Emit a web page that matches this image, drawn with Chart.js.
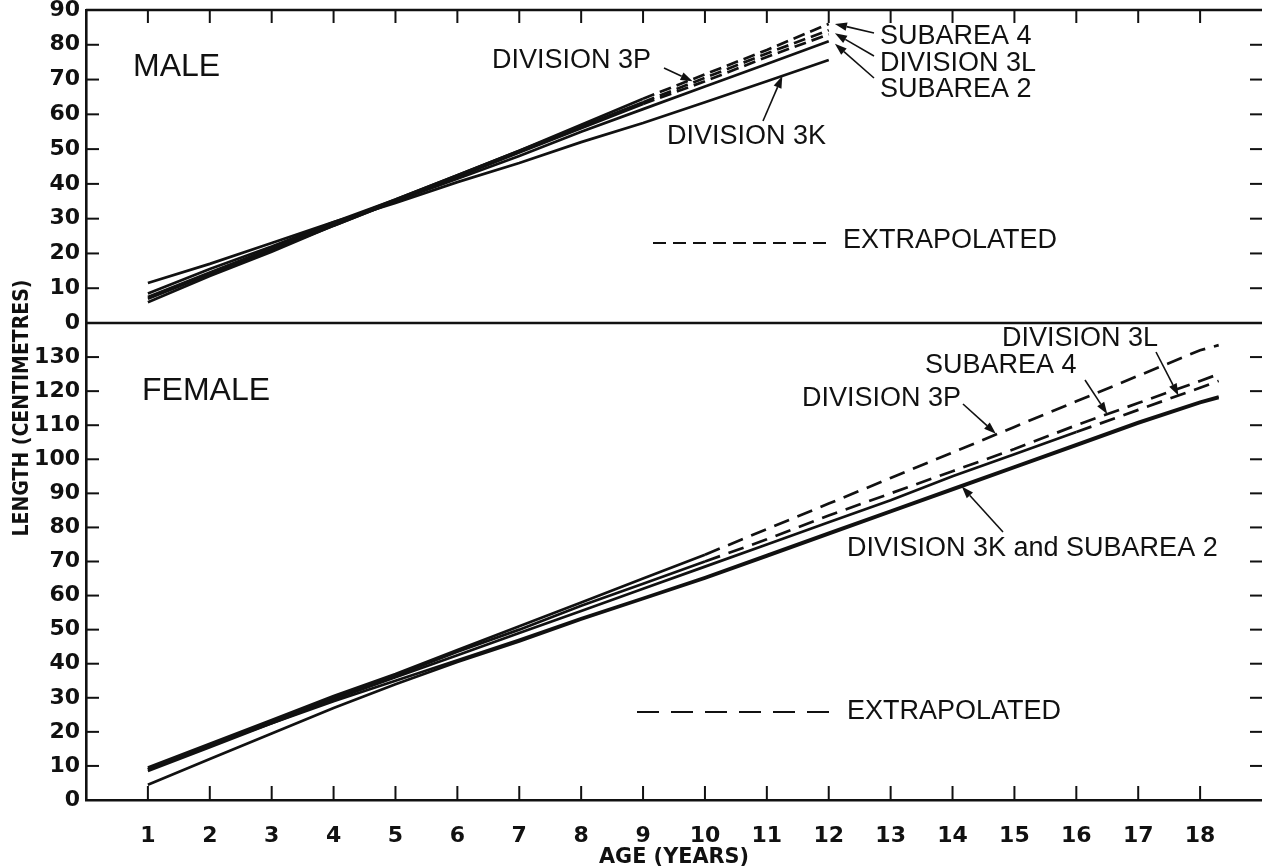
<!DOCTYPE html>
<html>
<head>
<meta charset="utf-8">
<script src="https://cdn.jsdelivr.net/npm/chart.js@4.4.0/dist/chart.umd.min.js"></script>
<style>
  html, body { margin: 0; padding: 0; background: #fff; }
</style>
</head>
<body>
<canvas id="growth" width="1262" height="868"></canvas>
<script>
// --- data (length in cm at age in years) ---
const ageTicks = [1, 2, 3, 4, 5, 6, 7, 8, 9, 10, 11, 12, 13, 14, 15, 16, 17, 18];

const maleAges = [1, 2, 3, 4, 5, 6, 7, 8, 9, 10, 11, 12];
const maleSub4 = [7.5, 14.5, 21.5, 28.5, 35.5, 42.5, 49.5, 57, 64.5, 71.5, 78.5, 86];
const male3L   = [8.5, 15.5, 22, 29, 35.5, 42.5, 49.5, 56.5, 63.5, 70.5, 77.5, 84.2];
const male3P   = [6, 13.5, 20.5, 28, 35, 42, 49, 56, 63, 69.5, 76.5, 83];
const maleSub2 = [7, 14, 21, 28, 35, 41.5, 48, 55, 61.5, 68, 74.5, 81];
const male3K   = [11.5, 17, 23, 29, 34.5, 40.5, 46, 52, 57.5, 63.5, 69.5, 75.6];

const femaleAges = [1, 2, 3, 4, 5, 6, 7, 8, 9, 10, 11, 12, 13, 14, 15, 16, 17, 18, 18.3];
const female3P   = [9.5, 16.5, 23.5, 30.5, 37, 44, 51, 58, 65, 72, 79.5, 87, 94.5, 102, 109.5, 117, 124.5, 132, 133.5];
const femaleSub4 = [9, 16, 23, 30, 36.5, 43.5, 50, 57, 63.5, 70, 76.5, 83.5, 90, 96.5, 103, 110, 116.5, 123, 125];
const female3L   = [8.5, 15.5, 22.5, 29.5, 36, 42.5, 49, 55.5, 62, 68.5, 75, 81.5, 88, 95, 101.5, 108, 114.5, 121, 123];
const female3K   = [4.5, 12, 19.5, 27, 34, 40.5, 46.5, 53, 59, 65, 71.5, 78, 84.5, 91, 97.5, 104, 110.5, 116.5, 118];
const femaleSub2 = [9, 16, 22.5, 29, 35, 41, 47, 53.3, 59.3, 65.4, 71.9, 78.4, 84.9, 91.4, 97.9, 104.4, 110.9, 116.9, 118.4];

// age from which each curve is extrapolated (null = observed throughout)
const maleExtrapFrom   = { sub4: 9, l3: 9, p3: 9, sub2: null, k3: null };
const femaleExtrapFrom = { p3: 10, sub4: 10, l3: 16, k3: null, sub2: null };

const ink = '#111';
const maleDash = [12, 6];
const femaleDash = [16, 9];

function series(ages, values, axis, from, dash) {
    return {
        data: ages.map((a, i) => ({ x: a, y: values[i] })),
        yAxisID: axis,
        borderColor: ink,
        borderWidth: 2.7,
        pointRadius: 0,
        tension: 0,
        segment: {
            borderDash: ctx => (from !== null && ctx.p0.parsed.x >= from - 1e-9) ? dash : undefined
        }
    };
}

const datasets = [
    series(maleAges, maleSub4, 'yM', maleExtrapFrom.sub4, maleDash),
    series(maleAges, male3L, 'yM', maleExtrapFrom.l3, maleDash),
    series(maleAges, male3P, 'yM', maleExtrapFrom.p3, maleDash),
    series(maleAges, maleSub2, 'yM', maleExtrapFrom.sub2, maleDash),
    series(maleAges, male3K, 'yM', maleExtrapFrom.k3, maleDash),
    series(femaleAges, female3P, 'yF', femaleExtrapFrom.p3, femaleDash),
    series(femaleAges, femaleSub4, 'yF', femaleExtrapFrom.sub4, femaleDash),
    series(femaleAges, female3L, 'yF', femaleExtrapFrom.l3, femaleDash),
    series(femaleAges, female3K, 'yF', femaleExtrapFrom.k3, femaleDash),
    series(femaleAges, femaleSub2, 'yF', femaleExtrapFrom.sub2, femaleDash)
];

// labels and pointers (tail in px, tip in data units on the panel's axis)
const notes = [
    { text: 'MALE', size: 32, x: 133, y: 67 },
    { text: 'DIVISION 3P', size: 27, x: 492, y: 61 },
    { text: 'DIVISION 3K', size: 27, x: 667, y: 137 },
    { text: 'SUBAREA 4', size: 27, x: 880, y: 37 },
    { text: 'DIVISION 3L', size: 27, x: 880, y: 64 },
    { text: 'SUBAREA 2', size: 27, x: 880, y: 90 },
    { text: 'EXTRAPOLATED', size: 27, x: 843, y: 241 },
    { text: 'FEMALE', size: 32, x: 142, y: 391 },
    { text: 'DIVISION 3L', size: 27, x: 1002, y: 339 },
    { text: 'SUBAREA 4', size: 27, x: 925, y: 366 },
    { text: 'DIVISION 3P', size: 27, x: 802, y: 399 },
    { text: 'DIVISION 3K and SUBAREA 2', size: 27, x: 847, y: 549 },
    { text: 'EXTRAPOLATED', size: 27, x: 847, y: 712 }
];
const pointers = [
    { from: [664, 68], axis: 'yM', age: 9.8, value: 69.5 },
    { from: [763, 121], axis: 'yM', age: 11.25, value: 71 },
    { from: [874, 33], axis: 'yM', age: 12.1, value: 86 },
    { from: [874, 56], axis: 'yM', age: 12.1, value: 83.3 },
    { from: [874, 78], axis: 'yM', age: 12.1, value: 80.3 },
    { from: [963, 404], axis: 'yF', age: 14.7, value: 107.5 },
    { from: [1085, 380], axis: 'yF', age: 16.5, value: 113.3 },
    { from: [1156, 352], axis: 'yF', age: 17.65, value: 118.7 },
    { from: [1003, 532], axis: 'yF', age: 14.15, value: 92 }
];
const legendDashes = [
    { x1: 653, x2: 833, y: 243, dash: [13, 7] },
    { x1: 637, x2: 832, y: 712, dash: [22, 12] }
];

function line(ctx, x1, y1, x2, y2) {
    ctx.beginPath();
    ctx.moveTo(x1, y1);
    ctx.lineTo(x2, y2);
    ctx.stroke();
}

function fitText(ctx, text, cx, cy, width, font, angle) {
    ctx.save();
    ctx.font = font;
    const k = width / ctx.measureText(text).width;
    ctx.translate(cx, cy);
    ctx.rotate(angle);
    ctx.scale(k, 1);
    ctx.textAlign = 'center';
    ctx.textBaseline = 'middle';
    ctx.fillText(text, 0, 0);
    ctx.restore();
}

const framePlugin = {
    id: 'frame',
    afterDatasetsDraw(chart) {
        const { ctx, chartArea: a, scales } = chart;
        const x = scales.x;
        ctx.save();
        ctx.strokeStyle = ink;
        ctx.fillStyle = ink;
        ctx.lineWidth = 2.4;
        line(ctx, a.left, a.top, a.right, a.top);
        line(ctx, a.left, scales.yM.bottom, a.right, scales.yM.bottom);

        // inward tick marks
        ctx.lineWidth = 2;
        ageTicks.forEach(v => {
            const px = x.getPixelForValue(v);
            line(ctx, px, a.top, px, a.top + 13);
            line(ctx, px, a.bottom, px, a.bottom - 14);
        });
        ['yM', 'yF'].forEach(id => {
            const s = scales[id];
            s.ticks.forEach(t => {
                if (t.value <= s.min || t.value >= s.max) return;
                const py = s.getPixelForValue(t.value);
                line(ctx, a.left, py, a.left + 13, py);
                line(ctx, a.right - 12, py, a.right, py);
            });
        });

        // legend dashes
        legendDashes.forEach(d => {
            ctx.setLineDash(d.dash);
            line(ctx, d.x1, d.y, d.x2, d.y);
        });
        ctx.setLineDash([]);

        // pointers
        ctx.lineWidth = 1.6;
        pointers.forEach(p => {
            const tx = x.getPixelForValue(p.age);
            const ty = scales[p.axis].getPixelForValue(p.value);
            const [fx, fy] = p.from;
            const ang = Math.atan2(ty - fy, tx - fx);
            const hl = 12, hw = 4.2;
            const bx = tx - hl * Math.cos(ang), by = ty - hl * Math.sin(ang);
            line(ctx, fx, fy, bx, by);
            ctx.beginPath();
            ctx.moveTo(tx, ty);
            ctx.lineTo(bx + hw * Math.sin(ang), by - hw * Math.cos(ang));
            ctx.lineTo(bx - hw * Math.sin(ang), by + hw * Math.cos(ang));
            ctx.closePath();
            ctx.fill();
        });

        // panel texts
        ctx.textAlign = 'left';
        ctx.textBaseline = 'middle';
        notes.forEach(n => {
            ctx.font = `${n.size}px "Liberation Sans", Arial, sans-serif`;
            ctx.fillText(n.text, n.x, n.y);
        });

        // axis titles
        fitText(ctx, 'LENGTH (CENTIMETRES)', 22, 408, 257, 'bold 22px "DejaVu Sans", sans-serif', -Math.PI / 2);
        fitText(ctx, 'AGE (YEARS)', (a.left + a.right) / 2, 857, 150, 'bold 22px "DejaVu Sans", sans-serif', 0);
        ctx.restore();
    }
};

const tickFont = { family: '"DejaVu Sans", sans-serif', weight: 'bold', size: 22 };

const yAxis = (max, weight) => ({
    type: 'linear',
    position: 'left',
    stack: 'panels',
    stackWeight: weight,
    min: 0,
    max: max,
    grid: { display: false, drawTicks: false },
    border: { display: true, color: ink, width: 2.6 },
    ticks: {
        stepSize: 10,
        autoSkip: false,
        padding: 6,
        color: ink,
        font: tickFont,
        callback: v => (v === 140 ? '' : v)
    },
    afterFit: s => { s.width = 86; s.paddingTop = 0; s.paddingBottom = 0; }
});

new Chart(document.getElementById('growth'), {
    type: 'line',
    data: { datasets },
    options: {
        responsive: false,
        animation: false,
        events: [],
        layout: { padding: { top: 10, left: 0, right: 0, bottom: 0 } },
        plugins: { legend: { display: false }, tooltip: { enabled: false } },
        scales: {
            x: {
                type: 'linear',
                position: 'bottom',
                min: 0,
                max: 19,
                afterBuildTicks: s => { s.ticks = ageTicks.map(v => ({ value: v })); },
                grid: { display: false, drawTicks: false },
                border: { display: true, color: ink, width: 2.6 },
                ticks: { color: ink, font: tickFont, padding: 23, maxRotation: 0, autoSkip: false },
                afterFit: s => { s.height = 68; s.paddingLeft = 0; s.paddingRight = 0; }
            },
            yF: yAxis(140, 477),
            yM: yAxis(90, 313)
        }
    },
    plugins: [framePlugin]
});
</script>
</body>
</html>
